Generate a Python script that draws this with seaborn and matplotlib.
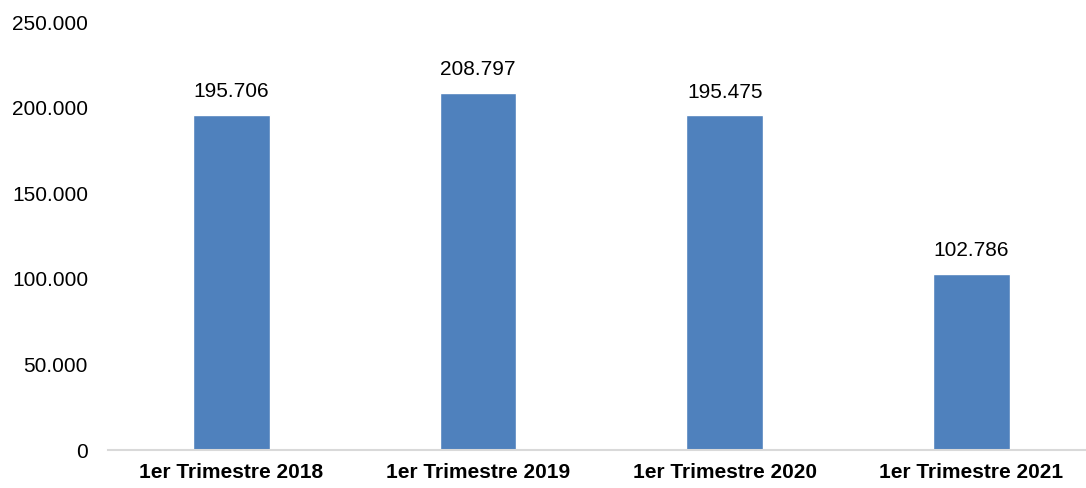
import matplotlib
matplotlib.use("Agg")
import matplotlib.pyplot as plt
import matplotlib.ticker as mticker
import seaborn as sns
import pandas as pd

categories = ["1er Trimestre 2018", "1er Trimestre 2019", "1er Trimestre 2020", "1er Trimestre 2021"]
values = [195706, 208797, 195475, 102786]
y_ticks = [0, 50000, 100000, 150000, 200000, 250000]


def fmt_es(v):
    return f"{int(v):,}".replace(",", ".")


sns.set_theme(style="white")
plt.rcParams["font.family"] = ["Liberation Sans", "DejaVu Sans"]

df = pd.DataFrame({"periodo": categories, "valor": values})

fig = plt.figure(figsize=(10.86, 4.88), dpi=100)
ax = fig.add_axes([108 / 1086, 38 / 488, 978 / 1086, 428 / 488])

sns.barplot(data=df, x="periodo", y="valor", color="#4F81BD", width=0.31,
            saturation=1, ax=ax)

for i, v in enumerate(values):
    ax.text(i, v + 8000, fmt_es(v), ha="center", va="bottom", fontsize=15, color="black")

ax.set_ylim(0, 250000)
ax.set_xlim(-0.5, 3.465)
ax.set_yticks(y_ticks)
ax.yaxis.set_major_formatter(mticker.FuncFormatter(lambda v, p: fmt_es(v)))
ax.set_xlabel("")
ax.set_ylabel("")
ax.tick_params(axis="y", labelsize=15, length=0, pad=14.4, colors="black")
ax.tick_params(axis="x", labelsize=15, length=0, pad=9, colors="black")
for lbl in ax.get_xticklabels():
    lbl.set_fontweight("bold")

for s in ["left", "right", "top"]:
    ax.spines[s].set_visible(False)
ax.spines["bottom"].set_color("#D9D9D9")
ax.spines["bottom"].set_linewidth(1.5)

fig.savefig("out.png", dpi=100)
